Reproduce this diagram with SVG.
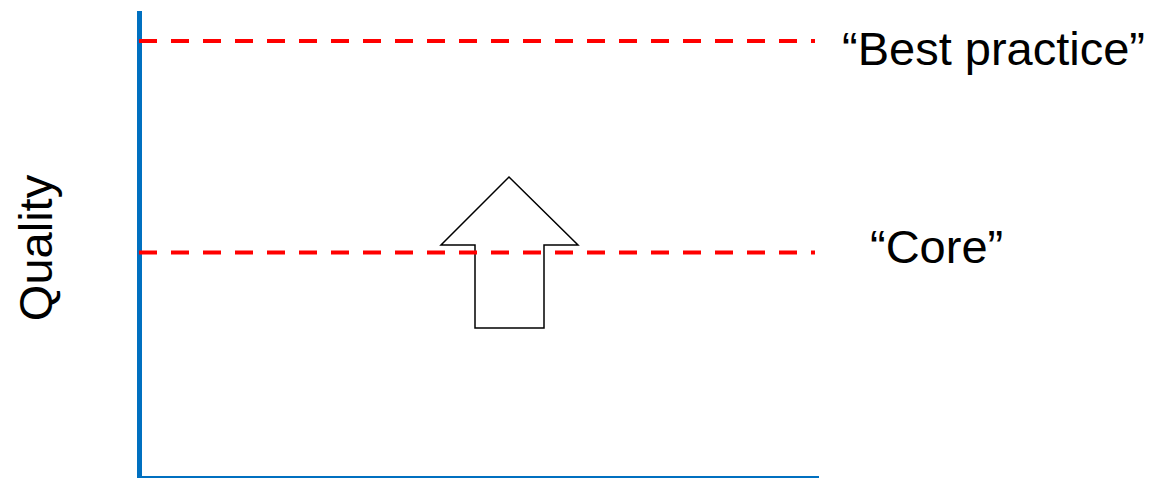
<svg xmlns="http://www.w3.org/2000/svg" width="1153" height="478" viewBox="0 0 1153 478">
<style>
.lbl{font-family:"Liberation Sans",Arial,sans-serif;font-size:47px;fill:#000}
.ref{stroke:#FF0000;stroke-width:4;stroke-dasharray:18 14;fill:none}
</style>
<rect width="1153" height="478" fill="#fff"/>
<g id="axes">
<line x1="139.5" y1="11" x2="139.5" y2="478" stroke="#0070C0" stroke-width="5"/>
<line x1="137" y1="477" x2="819" y2="477" stroke="#0070C0" stroke-width="2"/>
</g>
<g id="arrow">
<polygon points="509,177 578,245 544,245 544,328 475,328 475,245 441,245" fill="#fff" stroke="#000" stroke-width="1.5"/>
</g>
<g id="connectors">
<line class="ref" x1="139" y1="41" x2="815" y2="41"/>
<line class="ref" x1="139" y1="252.5" x2="815" y2="252.5"/>
</g>
<g id="labels">
<text class="lbl" x="842" y="65">“Best practice”</text>
<text class="lbl" x="870" y="263">“Core”</text>
<text class="lbl" transform="translate(52,248) rotate(-90)" text-anchor="middle">Quality</text>
</g>
</svg>
